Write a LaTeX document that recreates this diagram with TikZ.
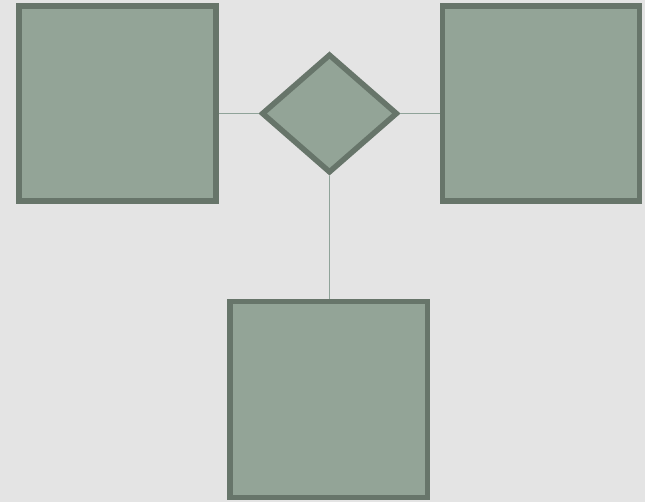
\documentclass[tikz,border=0pt]{standalone}
\usepackage{tikz}
\usetikzlibrary{shapes.geometric}
\definecolor{bgcol}{HTML}{E4E4E4}
\definecolor{boxfill}{HTML}{93A497}
\definecolor{boxline}{HTML}{67756A}
\definecolor{linkcol}{HTML}{8FA399}

\begin{document}
\begin{tikzpicture}[x=1pt,y=-1pt,
    entity/.style={rectangle, draw=boxline, fill=boxfill, line width=5.5pt,
      minimum width=197pt, minimum height=195pt, inner sep=0pt},
    relation/.style={diamond, draw=boxline, fill=boxfill, line width=5.5pt,
      minimum width=136pt, minimum height=119pt, inner sep=0pt},
    link/.style={draw=linkcol, line width=1.5pt}]
    \fill[bgcol] (0,0) rectangle (645,502);
    \useasboundingbox (0,0) rectangle (645,502);
    \node[relation] (dia) at (329.5,113.5) {};
    \node[entity] (lsq) at (117.5,103.5) {};
    \node[entity] (rsq) at (541,103.5) {};
    \node[entity, minimum width=197.5pt, minimum height=196pt] (bsq) at (328.75,399.5) {};
    \draw[link] (dia.west) -- (dia.west -| lsq.east);
    \draw[link] (dia.east) -- (dia.east -| rsq.west);
    \draw[link] (dia.south) -- (dia.south |- bsq.north);
\end{tikzpicture}
\end{document}
